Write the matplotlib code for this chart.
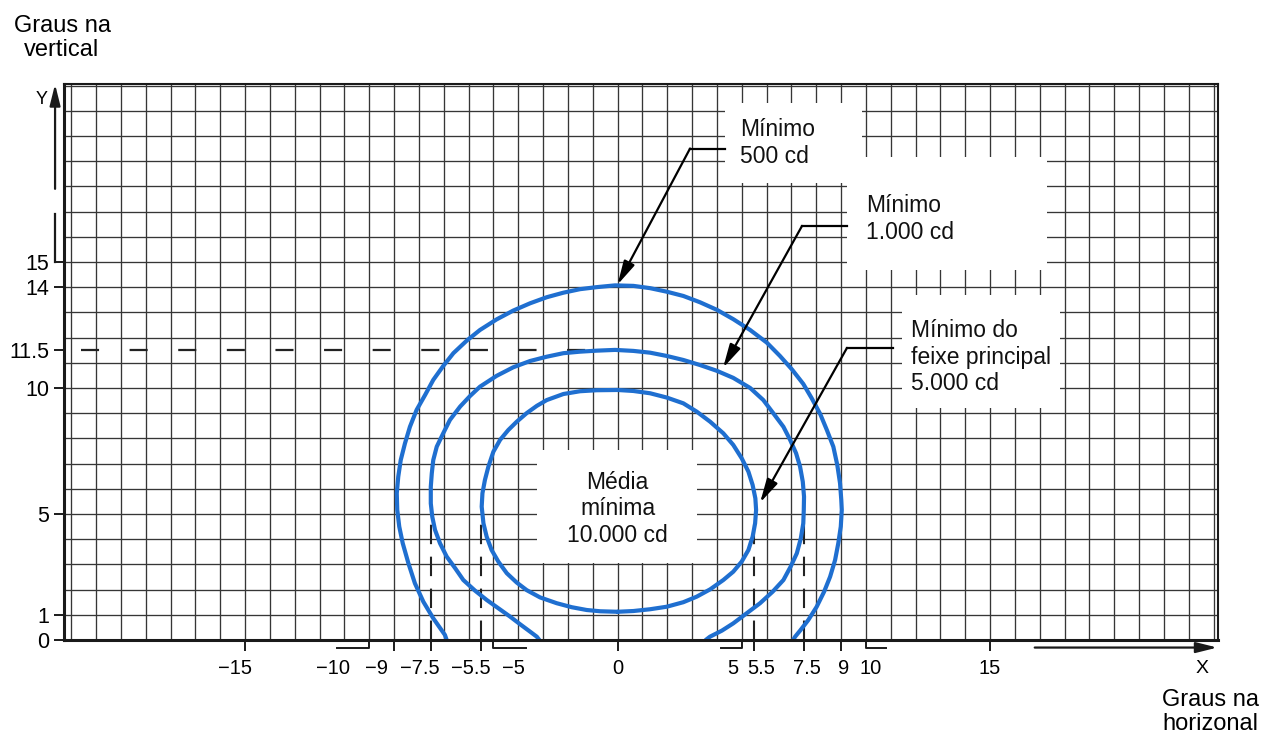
import matplotlib
matplotlib.use("Agg")
import matplotlib.pyplot as plt
from matplotlib.patches import Rectangle

plt.rcParams['font.family'] = ['Liberation Sans', 'DejaVu Sans']
plt.rcParams['lines.scale_dashes'] = False

# ---------------- data ----------------
# iso-candela contours (degrees horizontal, degrees vertical)
c500_x = [-6.88, -6.95, -7.42, -7.82, -8.16, -8.42, -8.65, -8.79, -8.87, -8.89, -8.83, -8.73,
          -8.56, -8.36, -8.09, -7.75, -7.42, -7.02, -6.61, -6.07, -5.54, -4.87, -4.2, -3.52,
          -2.85, -2.18, -1.51, -0.84, -0.1, 0.64, 1.31, 1.98, 2.65, 3.32, 4.0, 4.66, 5.34,
          6.01, 6.54, 7.02, 7.48, 7.82, 8.16, 8.43, 8.69, 8.85, 8.96, 9.01, 9.03, 8.99, 8.89,
          8.76, 8.56, 8.32, 8.02, 7.68, 7.35, 7.15, 7.07]
c500_y = [0.0, 0.2, 0.86, 1.52, 2.25, 3.04, 3.84, 4.5, 5.16, 5.82, 6.48, 7.14,
          7.8, 8.46, 9.13, 9.72, 10.32, 10.87, 11.38, 11.88, 12.3, 12.72, 13.07, 13.36,
          13.6, 13.78, 13.92, 14.0, 14.07, 14.05, 13.96, 13.82, 13.65, 13.4, 13.1, 12.73, 12.3,
          11.8, 11.27, 10.74, 10.16, 9.59, 8.97, 8.33, 7.67, 6.94, 6.22, 5.56, 5.16, 4.5, 3.84,
          3.17, 2.51, 1.92, 1.32, 0.79, 0.37, 0.13, 0.0]

c1000_x = [-3.15, -3.25, -3.52, -3.93, -4.33, -4.8, -5.27, -5.74, -6.21, -6.54, -6.88, -7.15,
           -7.35, -7.46, -7.52, -7.52, -7.48, -7.42, -7.28, -7.02, -6.75, -6.34, -5.94, -5.54,
           -4.87, -4.2, -3.52, -2.85, -2.18, -1.51, -0.84, -0.1, 0.64, 1.31, 1.98, 2.65, 3.32,
           4.0, 4.66, 5.34, 5.87, 6.27, 6.68, 6.95, 7.19, 7.35, 7.46, 7.51, 7.5, 7.48, 7.38,
           7.22, 6.97, 6.68, 6.25, 5.74, 5.2, 4.66, 4.2, 3.72, 3.55]
c1000_y = [0.0, 0.13, 0.33, 0.63, 0.93, 1.26, 1.59, 1.96, 2.38, 2.85, 3.31, 3.84,
           4.37, 4.89, 5.42, 6.08, 6.61, 7.14, 7.67, 8.2, 8.73, 9.26, 9.68, 10.05,
           10.48, 10.82, 11.07, 11.24, 11.38, 11.44, 11.48, 11.51, 11.47, 11.4, 11.27, 11.11, 10.91,
           10.68, 10.4, 10.0, 9.52, 9.0, 8.46, 7.94, 7.41, 6.88, 6.28, 5.69, 5.16, 4.63, 4.03,
           3.44, 2.91, 2.38, 1.92, 1.46, 1.06, 0.66, 0.37, 0.13, 0.0]

c5000_x = [0.0, -0.7, -1.24, -1.84, -2.45, -3.12, -3.66, -4.06, -4.46, -4.8, -5.07, -5.27,
           -5.4, -5.47, -5.44, -5.34, -5.2, -5.0, -4.73, -4.4, -4.06, -3.66, -3.25, -2.85,
           -2.18, -1.51, -0.84, 0.0, 0.64, 1.31, 1.98, 2.65, 3.19, 3.73, 4.26, 4.66, 5.0, 5.27,
           5.44, 5.55, 5.58, 5.54, 5.44, 5.27, 5.0, 4.66, 4.26, 3.73, 3.19, 2.65, 1.98, 1.31,
           0.64, 0.0]
c5000_y = [1.12, 1.14, 1.19, 1.3, 1.46, 1.69, 1.98, 2.28, 2.65, 3.11, 3.57, 4.1,
           4.63, 5.29, 5.82, 6.35, 6.88, 7.47, 7.94, 8.33, 8.66, 9.0, 9.29, 9.52,
           9.76, 9.87, 9.91, 9.92, 9.88, 9.79, 9.62, 9.39, 9.06, 8.66, 8.2, 7.74, 7.21, 6.68,
           6.15, 5.62, 5.16, 4.63, 4.1, 3.57, 3.11, 2.71, 2.38, 2.01, 1.72, 1.5, 1.32, 1.22,
           1.15, 1.12]

x_ticks = [-15, -9, -7.5, -5.5, 0, 5.5, 7.5, 9, 15]
x_bracket_ticks = [-10, -5, 5, 10]
x_label_text = ['\u221215', '\u221210', '\u22129', '\u22127.5', '\u22125.5', '\u22125', '0',
                '5', '5.5', '7.5', '9', '10', '15']
y_ticks = [0, 1, 5, 10, 11.5, 14, 15]
y_labels = ['0', '1', '5', '10', '11.5', '14', '15']

dash_v_x = [-7.5, -5.5, 5.5, 7.5]   # vertical dashed guides
dash_v_top = 4.6
dash_h_y = 11.5                     # horizontal dashed guide

labels = ['M\u00ednimo\n500 cd', 'M\u00ednimo\n1.000 cd',
          'M\u00ednimo do\nfeixe principal\n5.000 cd']
center_label = 'M\u00e9dia\nm\u00ednima\n10.000 cd'

# ---------------- layout (degrees) ----------------
x_label_pos = [-15.42, -11.46, -9.69, -7.95, -5.9, -4.21, 0.02, 4.65, 5.78, 7.63, 9.12,
               10.21, 15.0]
label_tip = [(0.0, 14.1), (4.25, 10.8), (5.74, 5.45)]
label_corner = [(2.92, 19.5), (7.43, 16.43), (9.24, 11.59)]
label_end = [(4.33, 19.5), (9.24, 16.43), (11.1, 11.59)]
label_pos = [(4.93, 19.72), (10.0, 16.7), (11.8, 11.22)]

# ---------------- figure ----------------
W, H = 1262, 739
fig = plt.figure(figsize=(W / 100, H / 100), dpi=100)
ax = fig.add_axes([64 / W, 99 / H, 1154 / W, 556 / H])
ax.set_xlim(-22.29, 24.18)
ax.set_ylim(0, 22.06)

grid_c = '#363636'
for gx in range(-22, 25):
    ax.axvline(gx, color=grid_c, lw=0.95, zorder=1)
for gy in range(1, 23):
    ax.axhline(gy, color=grid_c, lw=0.95, zorder=1)

# white label areas over the grid
for (x0, x1, y0, y1) in [(4.33, 9.85, 18.14, 21.31), (9.24, 17.3, 14.68, 19.17),
                         (11.46, 17.82, 9.2, 13.7), (-3.24, 3.2, 3.06, 7.54)]:
    ax.add_patch(Rectangle((x0, y0), x1 - x0, y1 - y0, fc='white', ec='none', zorder=2))

blue = '#1f6fd0'
for cx, cy in [(c500_x, c500_y), (c1000_x, c1000_y), (c5000_x, c5000_y)]:
    ax.plot(cx, cy, color=blue, lw=3.0, solid_joinstyle='round', solid_capstyle='round',
            zorder=4)

# dashed guides
for vx in dash_v_x:
    ax.plot([vx, vx], [0, dash_v_top], color='#222222', lw=1.5, ls=(0, (14, 9)), zorder=3)
ax.plot([-21.6, -0.7], [dash_h_y, dash_h_y], color='#222222', lw=1.6, ls=(0, (13, 22)),
        zorder=3)

# callouts
for txt, tip, cor, end, pos in zip(labels, label_tip, label_corner, label_end, label_pos):
    ax.plot([cor[0], end[0]], [cor[1], end[1]], color='k', lw=1.6, zorder=5)
    ax.annotate('', xy=tip, xytext=cor,
                arrowprops=dict(arrowstyle='-|>,head_length=0.9,head_width=0.22',
                                color='k', lw=1.6, shrinkA=0, shrinkB=0, mutation_scale=16),
                zorder=5)
    ax.text(pos[0], pos[1], txt, fontsize=16.5, ha='left', va='center', linespacing=1.2,
            color='#111111', zorder=6)
ax.text(0, 5.2, center_label, fontsize=16.5, ha='center', va='center', linespacing=1.2,
        multialignment='center', color='#111111', zorder=6)

# spines
for s in ['left', 'bottom']:
    ax.spines[s].set_linewidth(2.2)
for s in ['top', 'right']:
    ax.spines[s].set_linewidth(1.5)
for s in ax.spines.values():
    s.set_color('#1a1a1a')
    s.set_zorder(7)

# x ticks
ax.set_xticks(x_ticks)
ax.set_xticklabels([''] * len(x_ticks))
ax.tick_params(axis='x', direction='out', length=8, width=1.4, color='#1a1a1a')
label_y = -1.13
for v, lab in zip(x_label_pos, x_label_text):
    ax.text(v, label_y, lab, fontsize=14.5, ha='center', va='center', clip_on=False)
bracket_dir = [-1, 1, -1, 1]
bracket_len = [1.3, 1.3, 0.85, 0.8]
for v, d, bl in zip(x_bracket_ticks, bracket_dir, bracket_len):
    ax.plot([v, v, v + d * bl], [0, -0.32, -0.32], color='#1a1a1a', lw=1.4, clip_on=False,
            zorder=7)

# y ticks
ax.set_yticks(y_ticks)
ax.set_yticklabels(y_labels, fontsize=15.5)
ax.tick_params(axis='y', direction='out', length=7.5, width=1.4, color='#1a1a1a', pad=3)

# Y axis arrow and bracket
yx = -22.65
ax.plot([yx, yx], [15, 16.9], color='#1a1a1a', lw=1.6, clip_on=False)
ax.annotate('', xy=(yx, 22.05), xytext=(yx, 17.9), annotation_clip=False,
            arrowprops=dict(arrowstyle='-|>,head_length=0.8,head_width=0.2', color='#1a1a1a',
                            lw=1.6, shrinkA=0, shrinkB=0, mutation_scale=16))
ax.text(-23.2, 21.45, 'Y', fontsize=13, ha='center', va='center', clip_on=False)

# X axis arrow
ax.annotate('', xy=(24.15, -0.3), xytext=(16.8, -0.3), annotation_clip=False,
            arrowprops=dict(arrowstyle='-|>,head_length=0.8,head_width=0.2', color='#1a1a1a',
                            lw=1.6, shrinkA=0, shrinkB=0, mutation_scale=16))
ax.text(23.55, label_y, 'X', fontsize=14, ha='center', va='center', clip_on=False)

fig.text(62 / W, 1 - 38 / H, 'Graus na\nvertical', fontsize=17, ha='center', va='center',
         linespacing=1.15, multialignment='center')
fig.text(1210 / W, 1 - 712 / H, 'Graus na\nhorizonal', fontsize=17, ha='center',
         va='center', linespacing=1.1, multialignment='center')

fig.savefig('out.png', dpi=100)
